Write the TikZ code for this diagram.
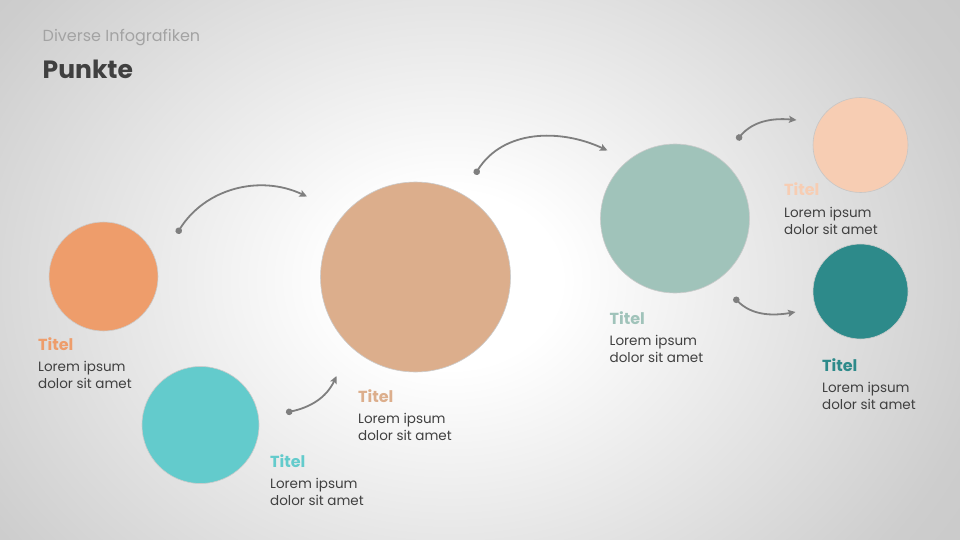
\documentclass[tikz,border=0pt]{standalone}
\usepackage{fontspec}
\setmainfont{Poppins}
\usetikzlibrary{arrows.meta}
\definecolor{bgedge}{HTML}{CDCDCD}
\definecolor{bgcorner}{HTML}{B4B4B4}
\definecolor{corange}{HTML}{EE9D6B}
\definecolor{ccyan}{HTML}{63CBCC}
\definecolor{ctan}{HTML}{DCAE8C}
\definecolor{csage}{HTML}{A0C3BA}
\definecolor{cpeach}{HTML}{F7CDB3}
\definecolor{cteal}{HTML}{2D8A8A}
\definecolor{carrow}{HTML}{7F7F7F}
\definecolor{ctext}{HTML}{404040}
\definecolor{chead}{HTML}{A3A3A3}
\definecolor{crim}{HTML}{CBCBCB}
\pgfdeclareradialshading{bgrad}{\pgfpoint{0bp}{0bp}}{color(0bp)=(white); color(5bp)=(white); color(25bp)=(bgedge); color(50bp)=(bgcorner)}
\tikzset{
  dotcircle/.style={circle, draw=crim, line width=0.6pt, inner sep=0pt, minimum size=#1},
  ttl/.style={anchor=base west, inner sep=0pt, font=\bfseries\fontsize{16}{16}\selectfont},
  body/.style={anchor=base west, inner sep=0pt, text=ctext, font=\fontsize{13.5}{14}\selectfont},
  conn/.style={draw=carrow, line width=1.8pt, {Circle[length=6.5pt]}-{Stealth[length=7.5pt,width=7pt,inset=1.5pt]}},
}
\begin{document}
\begin{tikzpicture}[x=1pt,y=-1pt]
\useasboundingbox (0,0) rectangle (960,540);
\begin{scope}
\clip (0,0) rectangle (960,540);
\shade[shading=bgrad] (-100,-160) rectangle (1000,720);
\end{scope}
% header
\node[anchor=base west, inner sep=0pt, text=chead, font=\fontsize{16}{16}\selectfont] (sub) at (42.5,42) {Diverse Infografiken};
\node[anchor=base west, inner sep=0pt, text=ctext, font=\bfseries\fontsize{25}{25}\selectfont] (head) at (42.5,79) {Punkte};
% circles
\node[dotcircle=109pt, fill=corange] (c1) at (103.5,276.5) {};
\node[dotcircle=117pt, fill=ccyan] (c2) at (200.5,425) {};
\node[dotcircle=190pt, fill=ctan] (c3) at (415.5,277) {};
\node[dotcircle=149pt, fill=csage] (c4) at (675,218.5) {};
\node[dotcircle=95pt, fill=cpeach, draw=gray!45] (c5) at (860.5,145) {};
\node[dotcircle=95pt, fill=cteal] (c6) at (860.5,291.5) {};
% texts
\node[ttl, text=corange] (t1) at (38,350) {Titel};
\node[body] (t1a) at (38,371) {Lorem ipsum};
\node[body] (t1b) at (38,388) {dolor sit amet};
\node[ttl, text=ccyan] (t2) at (270,467) {Titel};
\node[body] (t2a) at (270,488) {Lorem ipsum};
\node[body] (t2b) at (270,505) {dolor sit amet};
\node[ttl, text=ctan] (t3) at (358,402) {Titel};
\node[body] (t3a) at (358,423) {Lorem ipsum};
\node[body] (t3b) at (358,440) {dolor sit amet};
\node[ttl, text=csage] (t4) at (609.5,324) {Titel};
\node[body] (t4a) at (609.5,345) {Lorem ipsum};
\node[body] (t4b) at (609.5,362) {dolor sit amet};
\node[ttl, text=cpeach] (t5) at (784,196) {Titel};
\node[body] (t5a) at (784,217) {Lorem ipsum};
\node[body] (t5b) at (784,234) {dolor sit amet};
\node[ttl, text=cteal] (t6) at (822,371) {Titel};
\node[body] (t6a) at (822,392) {Lorem ipsum};
\node[body] (t6b) at (822,409) {dolor sit amet};
% connectors
\coordinate (a1s) at (177,233.5);
\coordinate (a1e) at (307,196.5);
\coordinate (a2s) at (286,412.5);
\coordinate (a2e) at (336.5,376);
\coordinate (a3s) at (475,174.5);
\coordinate (a3e) at (607.5,150.5);
\coordinate (a4s) at (737,140);
\coordinate (a4e) at (796.5,120);
\coordinate (a5s) at (734,297.5);
\coordinate (a5e) at (795.5,312);
\draw[conn] (a1s) to[out=58,in=155] (a1e);
\draw[conn] (a2s) to[out=12,in=-115] (a2e);
\draw[conn] (a3s) to[out=58,in=155] (a3e);
\draw[conn] (a4s) to[out=50,in=175] (a4e);
\draw[conn] (a5s) to[out=-45,in=190] (a5e);
\end{tikzpicture}
\end{document}
